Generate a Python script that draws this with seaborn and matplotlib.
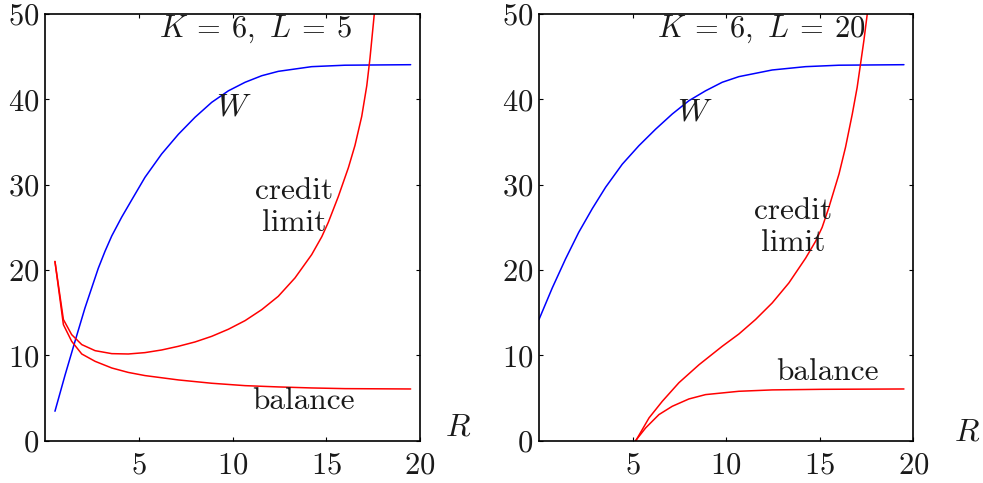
import numpy as np
import pandas as pd
import matplotlib
matplotlib.use("Agg")
import matplotlib.pyplot as plt
import seaborn as sns

# Left panel: K = 6, L = 5
w5_r = [0.53, 1.07, 1.6, 2.13, 2.84, 3.2, 3.56, 4.09, 4.62, 5.33, 6.22, 7.11, 8.0, 8.89,
        9.78, 10.67, 11.56, 12.44, 14.22, 16.0, 19.5]
w5_v = [3.45, 7.7, 11.65, 15.55, 20.2, 22.2, 24.0, 26.2, 28.2, 30.86, 33.6, 35.9, 37.9,
        39.65, 41.0, 42.0, 42.77, 43.28, 43.83, 44.0, 44.06]

bal5_r = [0.53, 0.98, 1.42, 1.96, 2.67, 3.56, 4.44, 5.33, 7.11, 8.89, 10.67, 12.44, 14.22,
          16.0, 19.5]
bal5_v = [21.0, 13.6, 11.65, 10.16, 9.3, 8.52, 8.0, 7.63, 7.12, 6.73, 6.45, 6.3, 6.18,
          6.1, 6.06]

cred5_r = [0.53, 0.98, 1.42, 1.96, 2.67, 3.56, 4.44, 5.33, 6.22, 7.11, 8.0, 8.89, 9.78,
           10.67, 11.56, 12.44, 13.33, 14.22, 14.76, 15.11, 15.64, 16.18, 16.53, 16.89,
           17.16, 17.33, 17.56]
cred5_v = [21.0, 14.2, 12.43, 11.26, 10.55, 10.2, 10.16, 10.32, 10.63, 11.06, 11.57, 12.23,
           13.06, 14.07, 15.36, 16.92, 19.07, 21.8, 23.9, 25.6, 28.6, 32.0, 34.6, 38.0,
           41.6, 44.8, 50.0]

# Right panel: K = 6, L = 20
w20_r = [0.0, 0.71, 1.42, 2.12, 2.85, 3.56, 4.45, 5.34, 6.23, 7.12, 8.01, 8.9, 9.79, 10.68,
         12.46, 14.24, 16.03, 19.5]
w20_v = [14.2, 17.9, 21.3, 24.4, 27.2, 29.7, 32.4, 34.57, 36.5, 38.28, 39.84, 41.0, 42.0,
         42.66, 43.44, 43.83, 44.0, 44.06]

bal20_r = [5.16, 5.7, 6.41, 7.12, 8.01, 8.9, 10.68, 12.46, 15.1, 19.5]
bal20_v = [0.0, 1.5, 3.06, 4.03, 4.89, 5.4, 5.79, 5.95, 6.02, 6.06]

cred20_r = [5.2, 5.88, 6.59, 7.48, 8.55, 9.79, 10.68, 11.57, 12.46, 13.35, 14.25, 14.78,
            15.13, 15.49, 16.03, 16.38, 16.74, 17.0, 17.18, 17.36, 17.54]
cred20_v = [0.1, 2.67, 4.62, 6.8, 8.9, 11.06, 12.5, 14.2, 16.14, 18.48, 21.4, 23.37, 25.0,
            27.34, 31.25, 34.4, 38.28, 41.4, 44.14, 46.9, 50.0]

x_ticks = [5, 10, 15, 20]
y_ticks = [0, 10, 20, 30, 40, 50]

sns.set_style("ticks")
plt.rcParams.update({
    "font.family": "serif",
    "font.serif": ["cmr10"],
    "mathtext.fontset": "cm",
    "axes.formatter.use_mathtext": True,
    "axes.unicode_minus": False,
    "axes.linewidth": 1.2,
    "axes.edgecolor": "black",
    "xtick.direction": "in",
    "ytick.direction": "in",
    "xtick.top": True,
    "ytick.right": True,
    "xtick.major.size": 3,
    "ytick.major.size": 3,
    "xtick.color": "black",
    "ytick.color": "black",
    "text.color": "#1a1a1a",
})

fig = plt.figure(figsize=(9.83, 4.83), dpi=100)
ax1 = fig.add_axes([0.0458, 0.0876, 0.3815, 0.8834])
ax2 = fig.add_axes([0.5483, 0.0876, 0.3808, 0.8834])

panels = [
    dict(ax=ax1, w=(w5_r, w5_v), bal=(bal5_r, bal5_v), cred=(cred5_r, cred5_v),
         title=r"$K\:=\:6,\ L\:=\:5$", t_x=11.24, w_pos=(10.04, 39.0), c_pos=(13.3, 27.4),
         b_pos=(13.78, 4.7), r_pos=(1.067, 0.03)),
    dict(ax=ax2, w=(w20_r, w20_v), bal=(bal20_r, bal20_v), cred=(cred20_r, cred20_v),
         title=r"$K\:=\:6,\ L\:=\:20$", t_x=11.9, w_pos=(8.32, 38.4), c_pos=(13.59, 25.05),
         b_pos=(15.4, 8.1), r_pos=(1.109, 0.018)),
]

for p in panels:
    ax = p["ax"]
    sns.lineplot(x=p["w"][0], y=p["w"][1], ax=ax, color="#0000ff", linewidth=1.1)
    sns.lineplot(x=p["bal"][0], y=p["bal"][1], ax=ax, color="#ff0000", linewidth=1.1)
    sns.lineplot(x=p["cred"][0], y=p["cred"][1], ax=ax, color="#ff0000", linewidth=1.1)
    ax.set_xlim(0, 20)
    ax.set_ylim(0, 50)
    ax.set_xticks(x_ticks)
    ax.set_yticks(y_ticks)
    ax.tick_params(axis="both", labelsize=22, labelcolor="#1a1a1a")
    ax.tick_params(axis="x", pad=8)
    ax.tick_params(axis="y", pad=4)
    ax.text(p["t_x"], 48.2, p["title"], ha="center", va="center", fontsize=22)
    ax.text(p["w_pos"][0], p["w_pos"][1], r"$W$", ha="center", va="center", fontsize=23)
    ax.text(p["c_pos"][0], p["c_pos"][1], "credit\nlimit", ha="center", va="center",
            fontsize=22.5, linespacing=1.2)
    ax.text(p["b_pos"][0], p["b_pos"][1], "balance", ha="center", va="center", fontsize=22.5)
    ax.text(p["r_pos"][0], p["r_pos"][1], r"$R$", transform=ax.transAxes, ha="left",
            va="center", fontsize=23)

fig.savefig("out.png", dpi=100)
